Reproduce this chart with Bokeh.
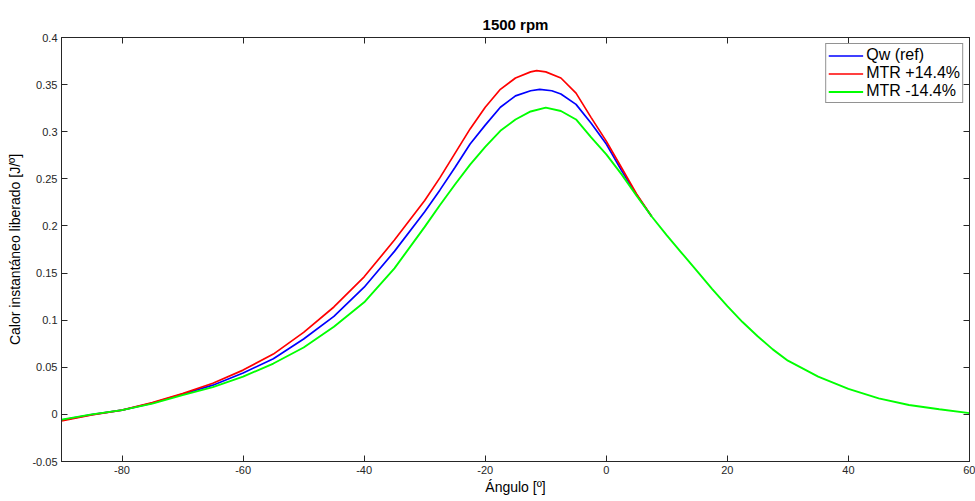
from bokeh.plotting import figure
from bokeh.models import (LinearAxis, FixedTicker, CustomJSTickFormatter, Range1d,
                          Legend, LegendItem)
from bokeh.embed import file_html
from bokeh.resources import INLINE

# Crank angle [deg] and instantaneous heat release [J/deg]
ang_red = [-90, -85, -80, -75, -70, -65, -60, -55, -50, -45, -40, -35, -30, -27.5, -25,
           -22.5, -20, -17.5, -15, -12.5, -11.5, -10, -7.5, -5, -2.5, 0, 2.5, 5, 7.5]
q_red = [-0.007, -0.0005, 0.0045, 0.0125, 0.022, 0.033, 0.047, 0.064, 0.087, 0.114, 0.146,
         0.185, 0.227, 0.251, 0.277, 0.303, 0.326, 0.345, 0.357, 0.3635, 0.3648, 0.3635,
         0.357, 0.341, 0.315, 0.290, 0.262, 0.234, 0.210]

ang_ref = [-90, -85, -80, -75, -70, -65, -60, -55, -50, -45, -40, -35, -30, -27.5, -25,
           -22.5, -20, -17.5, -15, -12.5, -11, -9, -7.5, -5, -2.5, 0, 2.5, 5, 7.5]
q_ref = [-0.006, -0.0003, 0.0045, 0.012, 0.0215, 0.031, 0.044, 0.059, 0.080, 0.104, 0.135,
         0.173, 0.215, 0.238, 0.262, 0.287, 0.307, 0.326, 0.338, 0.3435, 0.345, 0.3435,
         0.340, 0.329, 0.309, 0.287, 0.259, 0.233, 0.210]

ang_low = [-90, -85, -80, -75, -70, -65, -60, -55, -50, -45, -40, -35, -30, -27.5, -25,
           -22.5, -20, -17.5, -15, -12.5, -10, -7.5, -5, -2.5, 0, 2.5, 5, 7.5, 10, 12.5,
           15, 17.5, 20, 22.5, 25, 27.5, 30, 35, 40, 45, 50, 55, 60]
q_low = [-0.0055, 0.000, 0.0045, 0.0115, 0.0205, 0.029, 0.040, 0.054, 0.071, 0.093, 0.119,
         0.155, 0.199, 0.222, 0.244, 0.265, 0.284, 0.301, 0.313, 0.3215, 0.3256, 0.322,
         0.313, 0.294, 0.276, 0.255, 0.232, 0.210, 0.190, 0.171, 0.152, 0.133, 0.115,
         0.098, 0.083, 0.069, 0.057, 0.040, 0.027, 0.017, 0.010, 0.0055, 0.0014]

x_ticks = [-80, -60, -40, -20, 0, 20, 40, 60]
y_ticks = [-0.05, 0, 0.05, 0.1, 0.15, 0.2, 0.25, 0.3, 0.35, 0.4]

FONT = "Liberation Sans"
AX = "#262626"

p = figure(width=975, height=501, output_backend="svg", toolbar_location=None,
           x_range=Range1d(-90, 60), y_range=Range1d(-0.05, 0.4),
           min_border_left=61, min_border_right=6, min_border_top=37, min_border_bottom=40,
           x_axis_label="Ángulo [º]", y_axis_label="Calor instantáneo liberado [J/º]",
           title="1500 rpm")
p.background_fill_color = "white"
p.border_fill_color = "white"
p.outline_line_color = AX
p.grid.visible = False

p.title.align = "center"
p.title.text_font = FONT
p.title.text_font_size = "15px"
p.title.text_font_style = "bold"
p.title.text_color = "black"

yfmt = CustomJSTickFormatter(code="""
var s = tick.toFixed(2);
if (s.indexOf('.') >= 0) { s = s.replace(/0+$/, '').replace(/\\.$/, ''); }
if (s === '-0') s = '0';
return s;
""")
xfmt = CustomJSTickFormatter(code="return tick.toFixed(0);")
blank = CustomJSTickFormatter(code="return '';")

for ax in p.xaxis:
    ax.ticker = FixedTicker(ticks=x_ticks)
    ax.formatter = xfmt
for ax in p.yaxis:
    ax.ticker = FixedTicker(ticks=y_ticks)
    ax.formatter = yfmt

for ax in p.xaxis + p.yaxis:
    ax.major_tick_in = 6
    ax.major_tick_out = 0
    ax.minor_tick_line_color = None
    ax.axis_line_color = AX
    ax.major_tick_line_color = AX
    ax.major_label_text_font = FONT
    ax.major_label_text_font_size = "11px"
    ax.major_label_text_color = AX
    ax.axis_label_text_font = FONT
    ax.axis_label_text_font_size = "14px"
    ax.axis_label_text_font_style = "normal"
    ax.axis_label_text_color = "black"
    ax.major_label_standoff = 4
p.xaxis.axis_label_standoff = 2
p.yaxis.axis_label_standoff = 6

top = LinearAxis(ticker=FixedTicker(ticks=x_ticks), formatter=blank,
                 major_tick_in=6, major_tick_out=0, minor_tick_line_color=None,
                 axis_line_color=AX, major_tick_line_color=AX, major_label_standoff=0)
right = LinearAxis(ticker=FixedTicker(ticks=y_ticks), formatter=blank,
                   major_tick_in=6, major_tick_out=0, minor_tick_line_color=None,
                   axis_line_color=AX, major_tick_line_color=AX, major_label_standoff=0)
p.add_layout(top, "above")
p.add_layout(right, "right")

r_ref = p.line(ang_ref, q_ref, line_color="#0000ff", line_width=1.7)
r_red = p.line(ang_red, q_red, line_color="#ff0000", line_width=1.7)
r_low = p.line(ang_low, q_low, line_color="#00ff00", line_width=1.9)

legend = Legend(items=[LegendItem(label="Qw (ref)", renderers=[r_ref]),
                       LegendItem(label="MTR +14.4%", renderers=[r_red]),
                       LegendItem(label="MTR -14.4%", renderers=[r_low])],
                location="top_right")
legend.label_text_font = FONT
legend.label_text_font_size = "16px"
legend.label_text_color = "black"
legend.glyph_width = 35
legend.glyph_height = 17
legend.label_height = 17
legend.label_standoff = 3
legend.spacing = 0
legend.padding = 2
legend.margin = 6
legend.border_line_color = AX
legend.border_line_width = 1
legend.background_fill_alpha = 1
p.add_layout(legend)

open("out.html", "w").write(file_html(p, INLINE))
